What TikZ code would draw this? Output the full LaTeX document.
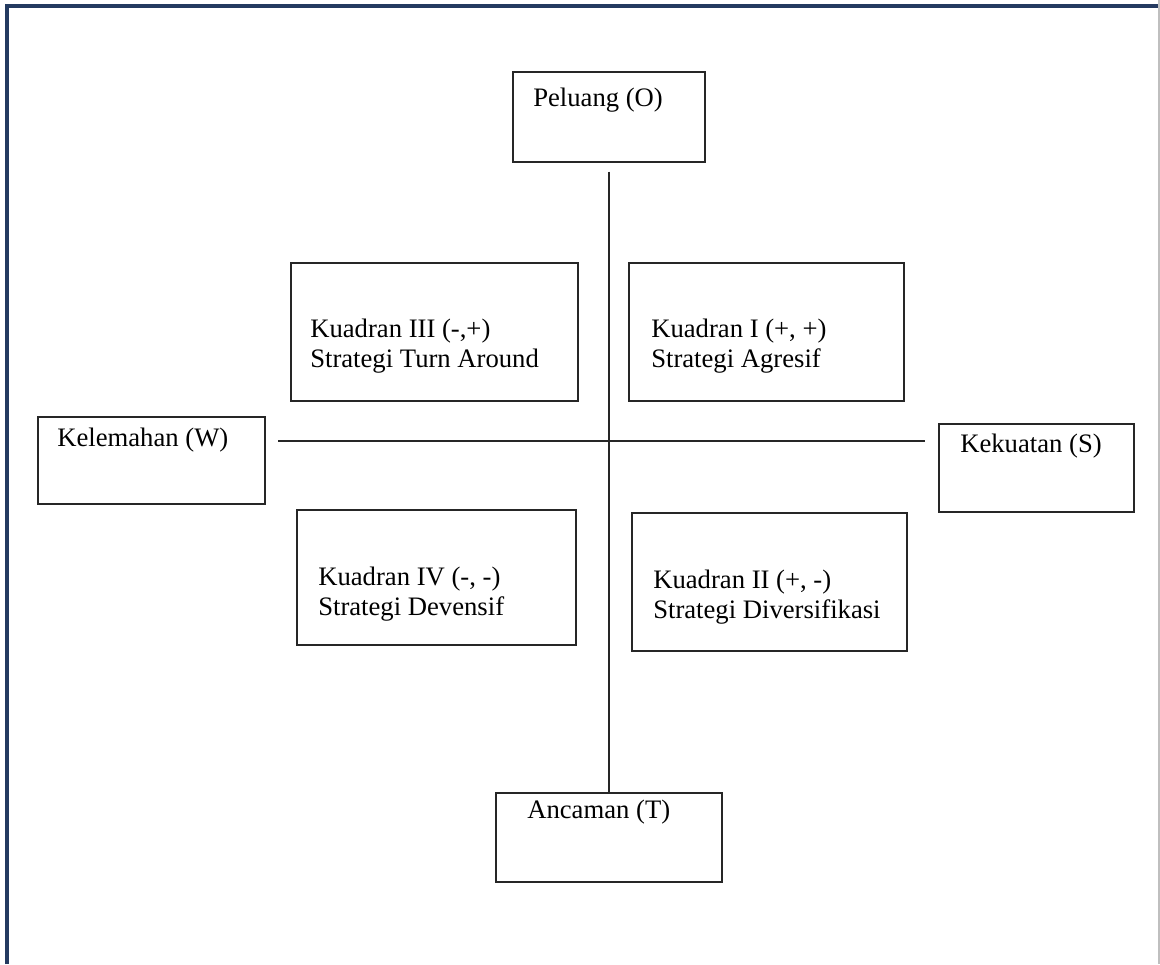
\documentclass[tikz,border=0pt]{standalone}
\usepackage{fontspec}
\setmainfont{Liberation Serif}
\definecolor{FrameNavy}{RGB}{36,58,96}
\usetikzlibrary{positioning, fit}

\begin{document}
\begin{tikzpicture}[x=0.75pt, y=-0.75pt,
      kotak/.style={draw=black!85, line width=0.9pt, inner sep=0pt, rectangle},
      teks/.style={anchor=west, align=left, inner sep=0pt,
                   font=\fontsize{20}{22}\selectfont},
      sumbu/.style={draw=black!85, line width=0.9pt}
    ]
      \useasboundingbox (0,0) rectangle (1160,964);
      % frame
      \draw[FrameNavy, line width=2.4pt] (7,964) -- (7,6) -- (1158,6);
      \draw[black!25, line width=0.8pt] (1159,0) -- (1159,964);

      % axis boxes
      \node[kotak, fit={(513,72) (705,162)}]  (peluang)   {};
      \node[kotak, fit={(496,793) (722,882)}] (ancaman)   {};
      \node[kotak, fit={(38,417) (265,504)}]  (kelemahan) {};
      \node[kotak, fit={(939,424) (1134,512)}] (kekuatan) {};
      \node[teks] (peluangtxt)   at (533,100) {Peluang (O)};
      \node[teks] (ancamantxt)   at (527,812) {Ancaman (T)};
      \node[teks] (kelemahantxt) at (57,440)  {Kelemahan (W)};
      \node[teks] (kekuatantxt)  at (960,446) {Kekuatan (S)};

      % quadrant boxes
      \node[kotak, fit={(291,263) (578,401)}] (k3) {};
      \node[kotak, fit={(629,263) (904,401)}] (k1) {};
      \node[kotak, fit={(297,510) (576,645)}] (k4) {};
      \node[kotak, fit={(632,513) (907,651)}] (k2) {};
      \node[teks] (k3txt) at (310,346) {Kuadran III (-,+)\\Strategi Turn Around};
      \node[teks] (k1txt) at (651,346) {Kuadran I (+, +)\\Strategi Agresif};
      \node[teks] (k4txt) at (318,594) {Kuadran IV (-, -)\\Strategi Devensif};
      \node[teks] (k2txt) at (653,597) {Kuadran II (+, -)\\Strategi Diversifikasi};

      % axes
      \coordinate (kiri)  at (278,441);
      \coordinate (kanan) at (925,441);
      \draw[sumbu] ([yshift=-6.75pt]peluang.south) -- (ancaman.north);
      \draw[sumbu] (kiri) -- (kanan);
    \end{tikzpicture}
\end{document}
